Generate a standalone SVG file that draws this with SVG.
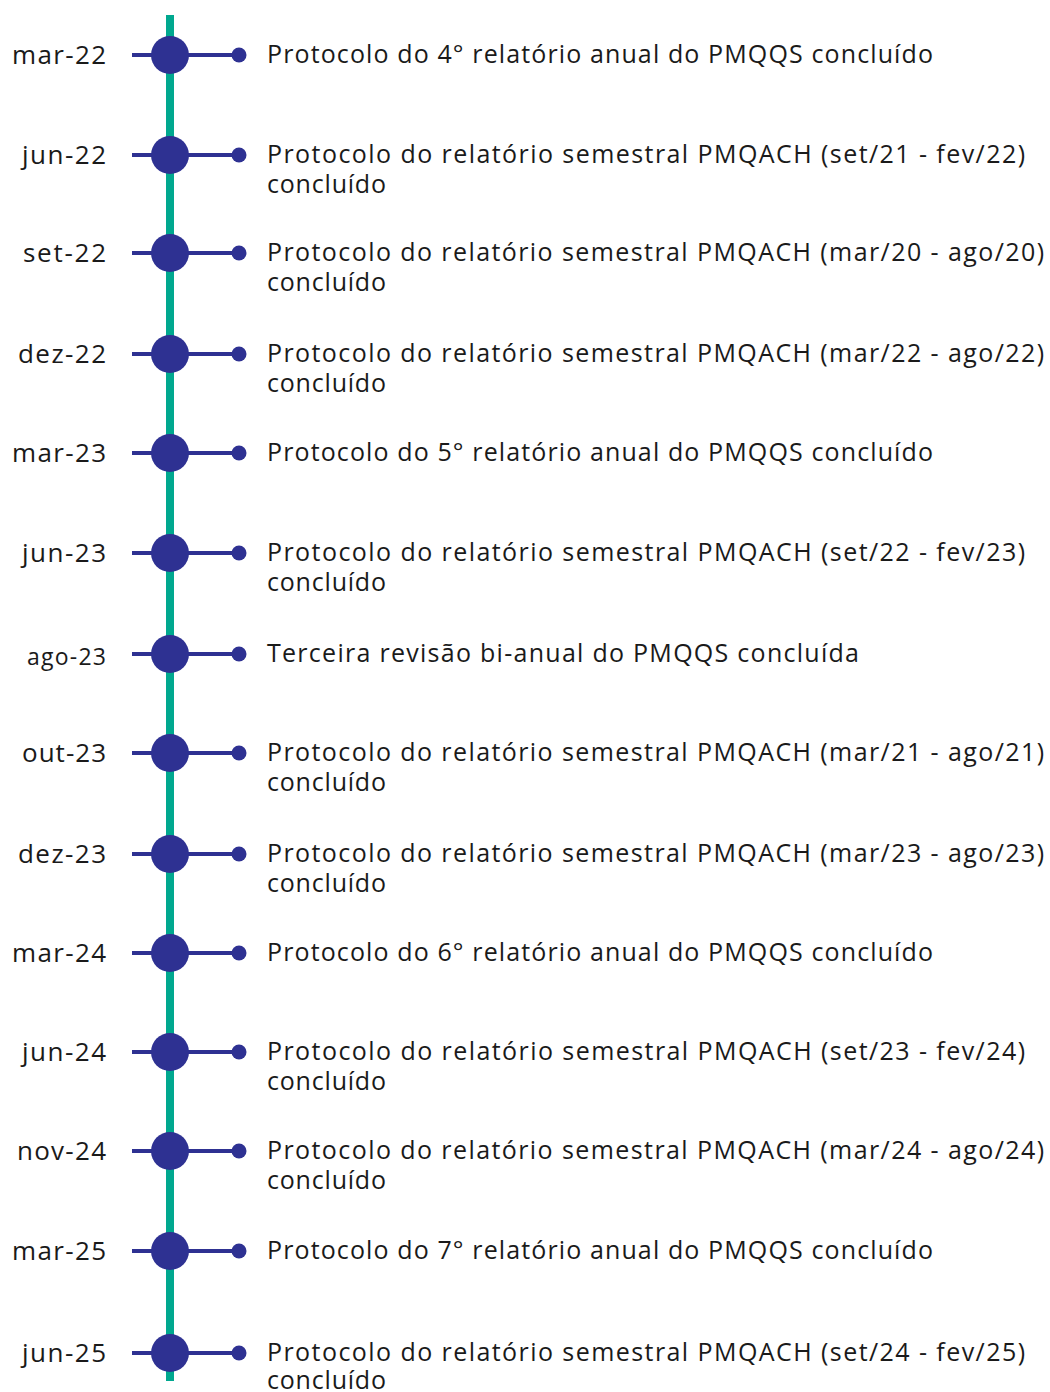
<svg xmlns="http://www.w3.org/2000/svg" width="1050" height="1392" viewBox="0 0 1050 1392">
<style>
.bg{fill:#ffffff}
.spine{stroke:#00a88f;stroke-width:8}
.arm{stroke:#2e3192;stroke-width:4}
.big{fill:#2e3192}
.dot{fill:#2e3192}
.date{font-family:"Open Sans","DejaVu Sans",sans-serif;font-size:26px;fill:#1a1a1a;text-anchor:end}
.date.sm{font-size:23px}
.desc{font-family:"Open Sans","DejaVu Sans",sans-serif;font-size:25px;fill:#1a1a1a}
</style>
<rect class="bg" width="1050" height="1392"/>
<g id="connectors">
<line class="spine" x1="170" y1="15" x2="170" y2="1381"/>
</g>
<g id="n1" transform="translate(0,55)"><line class="arm" x1="132" y1="0" x2="239" y2="0"/><circle class="big" cx="170" cy="0" r="19"/><circle class="dot" cx="239" cy="0" r="7.5"/><text class="date" x="106" y="9" textLength="94" lengthAdjust="spacing">mar-22</text><text class="desc" x="267" y="8" textLength="666" lengthAdjust="spacing">Protocolo do 4° relatório anual do PMQQS concluído</text></g>
<g id="n2" transform="translate(0,155)"><line class="arm" x1="132" y1="0" x2="239" y2="0"/><circle class="big" cx="170" cy="0" r="19"/><circle class="dot" cx="239" cy="0" r="7.5"/><text class="date" x="106" y="9" textLength="84" lengthAdjust="spacing">jun-22</text><text class="desc" x="267" y="8" textLength="758" lengthAdjust="spacing">Protocolo do relatório semestral PMQACH (set/21 - fev/22)</text><text class="desc" x="267" y="38" textLength="119" lengthAdjust="spacing">concluído</text></g>
<g id="n3" transform="translate(0,253)"><line class="arm" x1="132" y1="0" x2="239" y2="0"/><circle class="big" cx="170" cy="0" r="19"/><circle class="dot" cx="239" cy="0" r="7.5"/><text class="date" x="106" y="9" textLength="83" lengthAdjust="spacing">set-22</text><text class="desc" x="267" y="8" textLength="777" lengthAdjust="spacing">Protocolo do relatório semestral PMQACH (mar/20 - ago/20)</text><text class="desc" x="267" y="38" textLength="119" lengthAdjust="spacing">concluído</text></g>
<g id="n4" transform="translate(0,354)"><line class="arm" x1="132" y1="0" x2="239" y2="0"/><circle class="big" cx="170" cy="0" r="19"/><circle class="dot" cx="239" cy="0" r="7.5"/><text class="date" x="106" y="9" textLength="88" lengthAdjust="spacing">dez-22</text><text class="desc" x="267" y="8" textLength="777" lengthAdjust="spacing">Protocolo do relatório semestral PMQACH (mar/22 - ago/22)</text><text class="desc" x="267" y="38" textLength="119" lengthAdjust="spacing">concluído</text></g>
<g id="n5" transform="translate(0,453)"><line class="arm" x1="132" y1="0" x2="239" y2="0"/><circle class="big" cx="170" cy="0" r="19"/><circle class="dot" cx="239" cy="0" r="7.5"/><text class="date" x="106" y="9" textLength="94" lengthAdjust="spacing">mar-23</text><text class="desc" x="267" y="8" textLength="666" lengthAdjust="spacing">Protocolo do 5° relatório anual do PMQQS concluído</text></g>
<g id="n6" transform="translate(0,553)"><line class="arm" x1="132" y1="0" x2="239" y2="0"/><circle class="big" cx="170" cy="0" r="19"/><circle class="dot" cx="239" cy="0" r="7.5"/><text class="date" x="106" y="9" textLength="84" lengthAdjust="spacing">jun-23</text><text class="desc" x="267" y="8" textLength="758" lengthAdjust="spacing">Protocolo do relatório semestral PMQACH (set/22 - fev/23)</text><text class="desc" x="267" y="38" textLength="119" lengthAdjust="spacing">concluído</text></g>
<g id="n7" transform="translate(0,654)"><line class="arm" x1="132" y1="0" x2="239" y2="0"/><circle class="big" cx="170" cy="0" r="19"/><circle class="dot" cx="239" cy="0" r="7.5"/><text class="date sm" x="106" y="11" textLength="79" lengthAdjust="spacing">ago-23</text><text class="desc" x="267" y="8" textLength="592" lengthAdjust="spacing">Terceira revisão bi-anual do PMQQS concluída</text></g>
<g id="n8" transform="translate(0,753)"><line class="arm" x1="132" y1="0" x2="239" y2="0"/><circle class="big" cx="170" cy="0" r="19"/><circle class="dot" cx="239" cy="0" r="7.5"/><text class="date" x="106" y="9" textLength="84" lengthAdjust="spacing">out-23</text><text class="desc" x="267" y="8" textLength="777" lengthAdjust="spacing">Protocolo do relatório semestral PMQACH (mar/21 - ago/21)</text><text class="desc" x="267" y="38" textLength="119" lengthAdjust="spacing">concluído</text></g>
<g id="n9" transform="translate(0,854)"><line class="arm" x1="132" y1="0" x2="239" y2="0"/><circle class="big" cx="170" cy="0" r="19"/><circle class="dot" cx="239" cy="0" r="7.5"/><text class="date" x="106" y="9" textLength="88" lengthAdjust="spacing">dez-23</text><text class="desc" x="267" y="8" textLength="777" lengthAdjust="spacing">Protocolo do relatório semestral PMQACH (mar/23 - ago/23)</text><text class="desc" x="267" y="38" textLength="119" lengthAdjust="spacing">concluído</text></g>
<g id="n10" transform="translate(0,953)"><line class="arm" x1="132" y1="0" x2="239" y2="0"/><circle class="big" cx="170" cy="0" r="19"/><circle class="dot" cx="239" cy="0" r="7.5"/><text class="date" x="106" y="9" textLength="94" lengthAdjust="spacing">mar-24</text><text class="desc" x="267" y="8" textLength="666" lengthAdjust="spacing">Protocolo do 6° relatório anual do PMQQS concluído</text></g>
<g id="n11" transform="translate(0,1052)"><line class="arm" x1="132" y1="0" x2="239" y2="0"/><circle class="big" cx="170" cy="0" r="19"/><circle class="dot" cx="239" cy="0" r="7.5"/><text class="date" x="106" y="9" textLength="84" lengthAdjust="spacing">jun-24</text><text class="desc" x="267" y="8" textLength="758" lengthAdjust="spacing">Protocolo do relatório semestral PMQACH (set/23 - fev/24)</text><text class="desc" x="267" y="38" textLength="119" lengthAdjust="spacing">concluído</text></g>
<g id="n12" transform="translate(0,1151)"><line class="arm" x1="132" y1="0" x2="239" y2="0"/><circle class="big" cx="170" cy="0" r="19"/><circle class="dot" cx="239" cy="0" r="7.5"/><text class="date" x="106" y="9" textLength="89" lengthAdjust="spacing">nov-24</text><text class="desc" x="267" y="8" textLength="777" lengthAdjust="spacing">Protocolo do relatório semestral PMQACH (mar/24 - ago/24)</text><text class="desc" x="267" y="38" textLength="119" lengthAdjust="spacing">concluído</text></g>
<g id="n13" transform="translate(0,1251)"><line class="arm" x1="132" y1="0" x2="239" y2="0"/><circle class="big" cx="170" cy="0" r="19"/><circle class="dot" cx="239" cy="0" r="7.5"/><text class="date" x="106" y="9" textLength="94" lengthAdjust="spacing">mar-25</text><text class="desc" x="267" y="8" textLength="666" lengthAdjust="spacing">Protocolo do 7° relatório anual do PMQQS concluído</text></g>
<g id="n14" transform="translate(0,1353)"><line class="arm" x1="132" y1="0" x2="239" y2="0"/><circle class="big" cx="170" cy="0" r="19"/><circle class="dot" cx="239" cy="0" r="7.5"/><text class="date" x="106" y="9" textLength="84" lengthAdjust="spacing">jun-25</text><text class="desc" x="267" y="8" textLength="758" lengthAdjust="spacing">Protocolo do relatório semestral PMQACH (set/24 - fev/25)</text><text class="desc" x="267" y="36" textLength="119" lengthAdjust="spacing">concluído</text></g>
</svg>
